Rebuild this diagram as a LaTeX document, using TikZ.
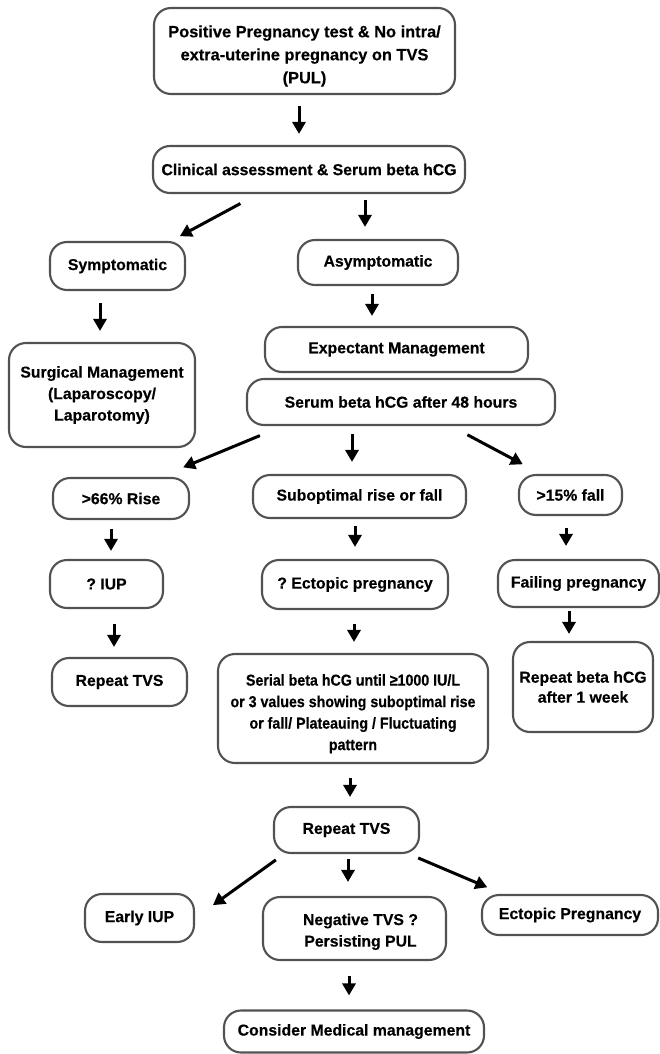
\documentclass[tikz,border=0pt]{standalone}
\usepackage{fontspec}
\setmainfont{Liberation Sans}[BoldFeatures={FakeBold=0.4}]
\newfontfamily\condfont{Liberation Sans}[FakeStretch=0.9,BoldFeatures={FakeBold=0.4}]
\usetikzlibrary{arrows.meta}
\frenchspacing
\begin{document}
\begin{tikzpicture}[x=1pt,y=-1pt,
  box/.style={draw=black!68, line width=2.1pt, rounded corners=17pt, inner sep=0pt,
    align=center, font=\bfseries\fontsize{15.8}{21.5}\selectfont},
  arr/.style={line width=3pt, -{Triangle[length=12pt,width=13pt]}}]
\useasboundingbox (0,0) rectangle (660,1054);
\fill[white] (0,0) rectangle (660,1054);

\node[box, minimum width=301pt, minimum height=86pt, font=\bfseries\fontsize{16.4}{23}\selectfont] (top) at (304.5,51)
  {\rule{0pt}{22pt}Positive Pregnancy test \& No intra/\\extra-uterine pregnancy on TVS\\(PUL)};
\node[box, minimum width=312pt, minimum height=47pt] (clin) at (309,169.5) {Clinical assessment \& Serum beta hCG};
\node[box, minimum width=135pt, minimum height=48pt] (sym) at (117.5,266) {Symptomatic};
\node[box, minimum width=160pt, minimum height=45pt] (asym) at (378,262.5) {Asymptomatic};
\node[box, minimum width=186pt, minimum height=104pt] (surg) at (102,395) {Surgical Management\\(Laparoscopy/\\Laparotomy)};
\node[box, minimum width=263pt, minimum height=45pt] (exp) at (396.5,349.5) {Expectant Management};
\node[box, minimum width=308pt, minimum height=46pt] (serum) at (401,402) {Serum beta hCG after 48 hours};
\node[box, minimum width=136pt, minimum height=41pt] (rise) at (121,498.5) {>66\% Rise};
\node[box, minimum width=213pt, minimum height=43pt] (subopt) at (359.5,496.5) {Suboptimal rise or fall};
\node[box, minimum width=103pt, minimum height=40pt] (fall) at (570.5,495) {>15\% fall};
\node[box, minimum width=113pt, minimum height=48pt] (iup) at (106.5,584) {? IUP};
\node[box, minimum width=186pt, minimum height=49pt] (ectq) at (355,584.5) {? Ectopic pregnancy};
\node[box, minimum width=161pt, minimum height=47pt] (failing) at (578.5,583.5) {Failing pregnancy};
\node[box, minimum width=135pt, minimum height=48pt] (rtvsa) at (119.5,682) {Repeat TVS};
\node[box, minimum width=270pt, minimum height=109pt, font=\condfont\bfseries\fontsize{15.8}{21.5}\selectfont] (serial) at (353,708.5)
  {\rule{0pt}{22pt}Serial beta hCG until ≥1000 IU/L\\or 3 values showing suboptimal rise\\or fall/ Plateauing / Fluctuating\\pattern};
\node[box, minimum width=140pt, minimum height=90pt, font=\bfseries\fontsize{15.8}{20}\selectfont] (rbeta) at (583,687) {Repeat beta hCG\\after 1 week};
\node[box, minimum width=145pt, minimum height=46pt] (rtvsb) at (346.5,830) {Repeat TVS};
\node[box, minimum width=109pt, minimum height=48pt] (early) at (139.5,918) {Early IUP};
\node[box, minimum width=183pt, minimum height=63pt] (neg) at (354.5,928.5) {\rule{0pt}{18pt}\hspace*{12pt}Negative TVS ?\\\hspace*{12pt}Persisting PUL};
\node[box, minimum width=176pt, minimum height=40pt] (ectp) at (570,915) {Ectopic Pregnancy};
\node[box, minimum width=260pt, minimum height=42pt] (cons) at (354,1031.5) {Consider Medical management};

% connectors
\draw[arr, shorten <=11pt, shorten >=11pt] (top.south -| 299,0) -- (clin.north -| 299,0);
\draw[arr, shorten <=20pt, shorten >=10pt] (clin.south -| 258,0) -- (sym.north -| 171,0);
\draw[arr, shorten <=6pt, shorten >=12pt] (clin.south -| 365,0) -- (asym.north -| 365,0);
\draw[arr, shorten <=12pt, shorten >=11pt] (sym.south -| 100,0) -- (surg.north -| 100,0);
\draw[arr, shorten <=8pt, shorten >=10pt] (asym.south -| 372,0) -- (exp.north -| 372,0);
\draw[arr, shorten <=25pt, shorten >=25pt] (serum.south -| 283,0) -- (rise.north -| 160,0);
\draw[arr, shorten <=8pt, shorten >=12pt] (serum.south -| 352,0) -- (subopt.north -| 352,0);
\draw[arr, shorten <=18.6pt, shorten >=20.6pt] (serum.south -| 451,0) -- (fall.north -| 541,0);
\draw[arr, shorten <=9pt, shorten >=8pt] (rise.south -| 111,0) -- (iup.north -| 111,0);
\draw[arr, shorten <=7pt, shorten >=12pt] (subopt.south -| 355,0) -- (ectq.north -| 355,0);
\draw[arr, shorten <=12pt, shorten >=13pt] (fall.south -| 566,0) -- (failing.north -| 566,0);
\draw[arr, shorten <=15pt, shorten >=10pt] (iup.south -| 114,0) -- (rtvsa.north -| 114,0);
\draw[arr, shorten <=14pt, shorten >=11pt] (ectq.south -| 354,0) -- (serial.north -| 354,0);
\draw[arr, shorten <=3pt, shorten >=7pt] (failing.south -| 569,0) -- (rbeta.north -| 569,0);
\draw[arr, shorten <=14pt, shorten >=9pt] (serial.south -| 350,0) -- (rtvsb.north -| 350,0);
\draw[arr, shorten <=10pt, shorten >=22pt] (rtvsb.south -| 284,0) -- (early.east);
\draw[arr, shorten <=5pt, shorten >=14pt] (rtvsb.south -| 348,0) -- (neg.north -| 348,0);
\draw[arr, shorten <=10pt, shorten >=17pt] (rtvsb.south -| 409,0) -- (ectp.north -| 503,0);
\draw[arr, shorten <=15pt, shorten >=14pt] (neg.south -| 349,0) -- (cons.north -| 349,0);
\end{tikzpicture}
\end{document}
